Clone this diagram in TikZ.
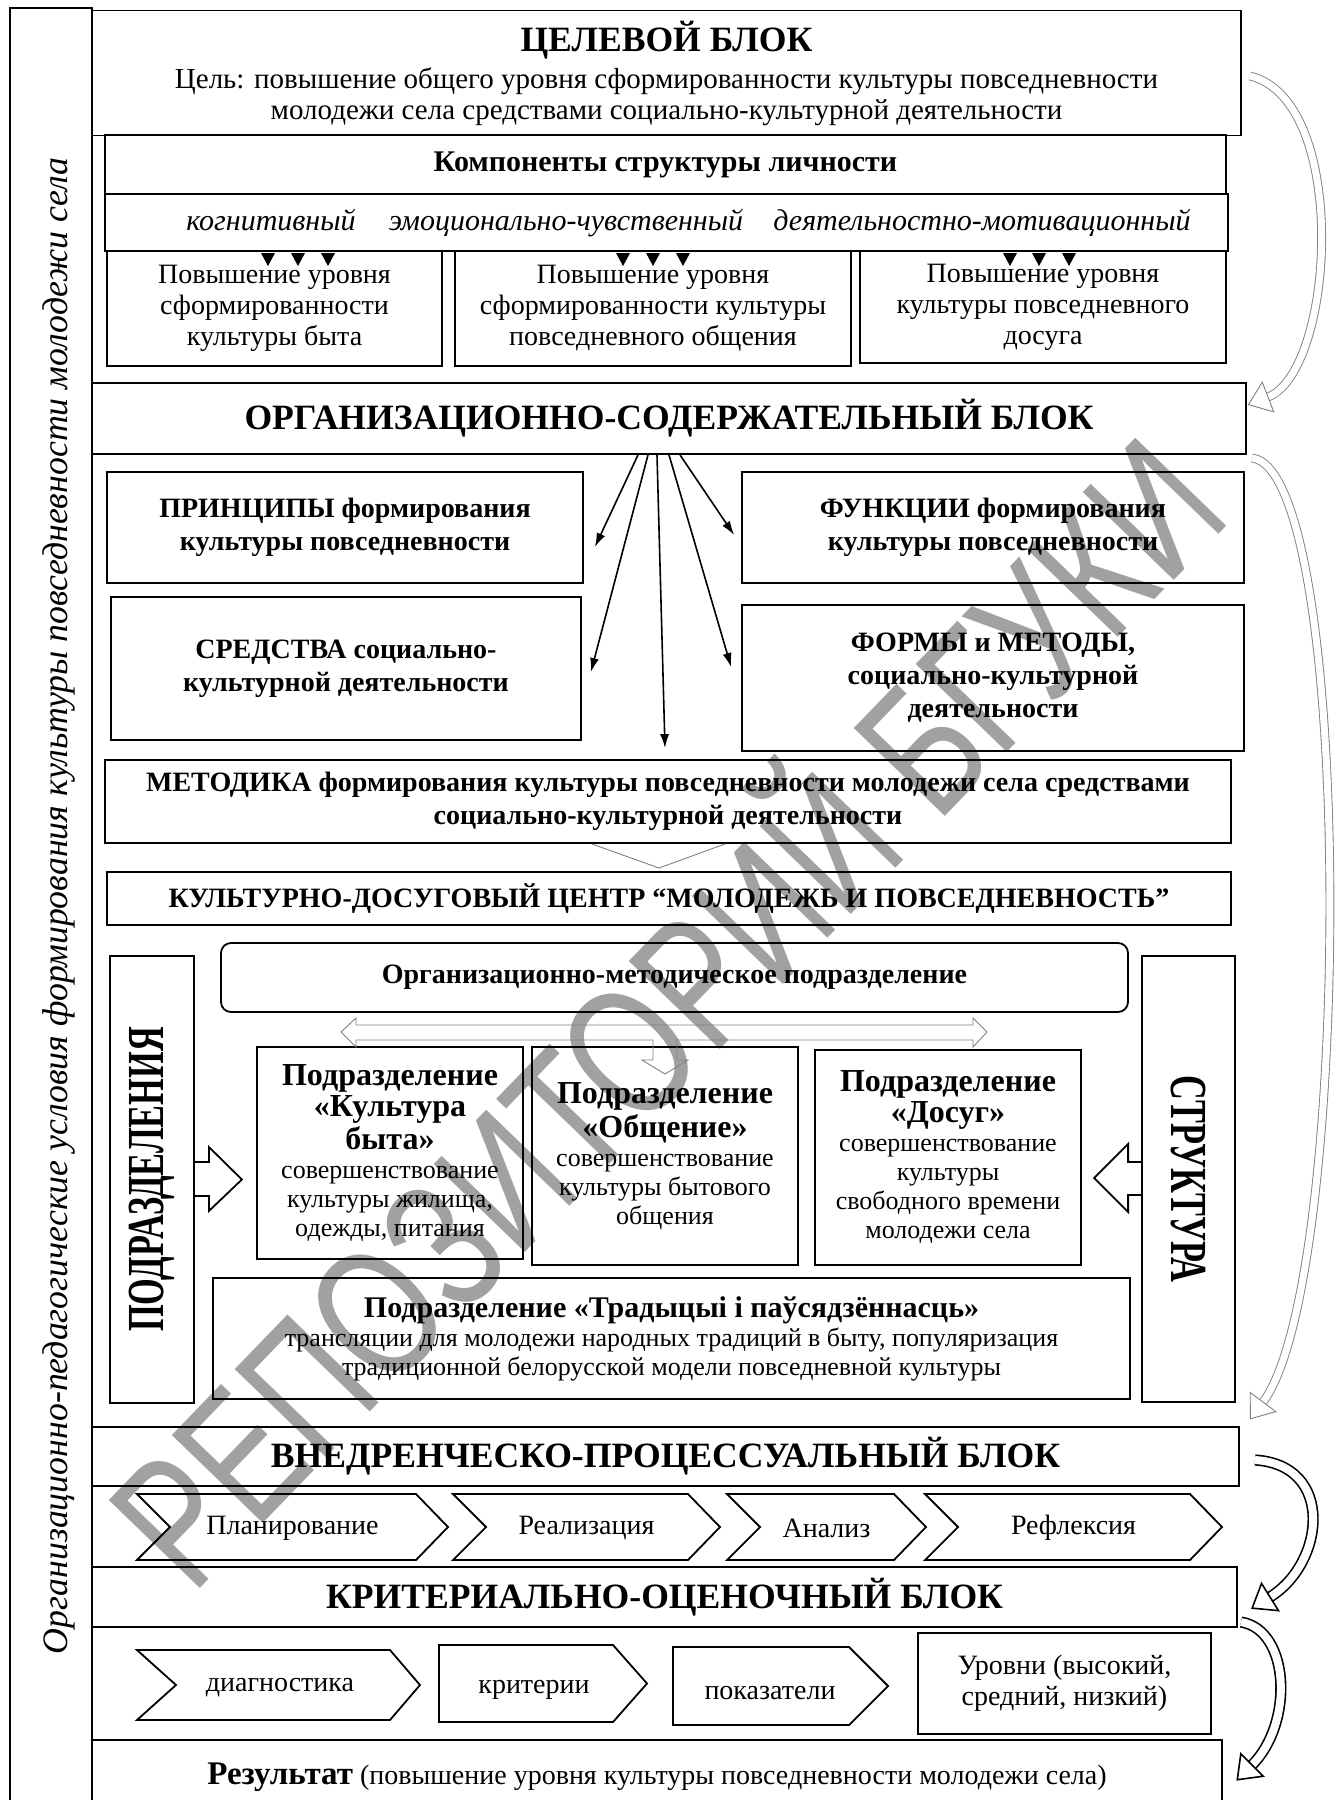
\documentclass[tikz,border=0pt]{standalone}
\usepackage{fontspec}
\usepackage{graphicx}
\setmainfont{Liberation Serif}
\newfontfamily\wmfont{Liberation Sans}
\usetikzlibrary{calc,arrows.meta}
\newcommand{\hdr}[1]{{\fontsize{16}{18}\selectfont\bfseries #1}}
\newcommand{\hhd}[4]{\draw[#1] ($(#2)+21*(#3)$) -- ($(#2)+16*(#4)$) -- ($(#2)-16*(#4)$) -- cycle;}
\tikzset{
  every picture/.style={line width=0.9pt},
  box/.style={draw, rectangle, inner sep=0pt, align=center, font=\fontsize{14}{15.5}\selectfont},
  ttl/.style={font=\fontsize{17.8}{20}\selectfont\bfseries},
  bld/.style={font=\fontsize{14}{16.5}\selectfont\bfseries},
  sub/.style={font=\fontsize{13}{14.5}\selectfont},
  itl/.style={font=\fontsize{15}{17}\selectfont\itshape, anchor=base},
  vert/.style={font=\fontsize{26}{28}\selectfont\bfseries},
  fan/.style={-{Latex[length=7pt,width=4.5pt]}, line width=0.8pt},
  hollow/.style={line width=0.45pt, double=white, double distance=3.5pt},
  hollowk/.style={line width=0.8pt, double=white, double distance=4pt},
  hhead/.style={line width=0.45pt, fill=white},
}

\begin{document}
\begin{tikzpicture}[x=0.5pt,y=-0.5pt]
\useasboundingbox (0,0) rectangle (1338,1800);

\node[rotate=46, text=black!37, font=\wmfont\fontsize{92}{92}\selectfont] (wm) at (654,1000)
  {\scalebox{0.74}[1]{РЕПОЗИТОРИЙ БГУКИ}};

\draw (10,8) rectangle (92,1815);
\node[rotate=90, anchor=base, font=\fontsize{17.9}{20}\selectfont\itshape] (side) at (67,906)
  {Организационно-педагогические условия формирования культуры повседневности молодежи села};

\node[box, minimum width=574.5pt, minimum height=62.5pt] (aim) at (666.5,73)
  {{\fontsize{17.8}{20}\selectfont\bfseries ЦЕЛЕВОЙ БЛОК}\\[3pt]
   {\fontsize{14.5}{16}\selectfont Цель: повышение общего уровня сформированности культуры повседневности}\\
   {\fontsize{14.5}{16}\selectfont молодежи села средствами социально-культурной деятельности}};
\node[box, font=\fontsize{15}{17}\selectfont\bfseries, minimum width=560.5pt, minimum height=29.5pt] (comp) at (665.5,164.5)
  {Компоненты структуры личности};
\node[box, minimum width=561.5pt, minimum height=28.5pt] (row) at (666.5,222.5) {};
\node[itl] (kog) at (271,230) {когнитивный};
\node[itl] (emo) at (566,230) {эмоционально-чувственный};
\node[itl] (dey) at (982,230) {деятельностно-мотивационный};

\node[box, minimum width=167.5pt, minimum height=57.5pt] (b1) at (274.5,308.5)
  {Повышение уровня\\ сформированности\\ культуры быта};
\node[box, minimum width=198pt, minimum height=57.5pt] (b2) at (653,308.5)
  {Повышение уровня\\ сформированности культуры\\ повседневного общения};
\node[box, minimum width=183pt, minimum height=56pt] (b3) at (1043,307)
  {Повышение уровня\\ культуры повседневного\\ досуга};
\foreach \x in {268,298,328,623,653,683,1010,1039,1069}
  \fill (\x-7,253) -- (\x+7,253) -- (\x,266) -- cycle;

\node[box, ttl, minimum width=577pt, minimum height=35.5pt] (org) at (669,418.5) {ОРГАНИЗАЦИОННО-СОДЕРЖАТЕЛЬНЫЙ БЛОК};

\node[box, bld, minimum width=238pt, minimum height=55.5pt] (prin) at (345,527.5)
  {ПРИНЦИПЫ формирования\\ культуры повседневности};
\node[box, bld, minimum width=251pt, minimum height=55.5pt] (func) at (993,527.5)
  {ФУНКЦИИ формирования\\ культуры повседневности};
\node[box, bld, minimum width=235pt, minimum height=71.5pt] (sred) at (346,668.5)
  {СРЕДСТВА социально-\\ культурной деятельности};
\node[box, bld, minimum width=251pt, minimum height=73pt] (form) at (993,678)
  {ФОРМЫ и МЕТОДЫ,\\ социально-культурной\\ деятельности};
\node[box, bld, minimum width=563pt, minimum height=41.5pt] (metod) at (668,801.5)
  {МЕТОДИКА формирования культуры повседневности молодежи села средствами\\ социально-культурной деятельности};
\node[box, bld, minimum width=562pt, minimum height=26.5pt] (kdc) at (669,898.5)
  {КУЛЬТУРНО-ДОСУГОВЫЙ ЦЕНТР “МОЛОДЕЖЬ И ПОВСЕДНЕВНОСТЬ”};

\draw[fan] ($(org.south)+(-31,0)$) -- ($(prin.east)+(11,19.5)$);
\draw[fan] ($(org.south)+(-21,0)$) -- ($(sred.east)+(9,3.5)$);
\draw[fan] ($(org.south)+(-12,0)$) -- ($(metod.north)+(-3,-11)$);
\draw[fan] ($(org.south)+(0,0)$) -- ($(form.west)+(-10,-11)$);
\draw[fan] ($(org.south)+(11,0)$) -- ($(func.west)+(-7,7.5)$);
\draw[gray, line width=0.45pt] (592,844) -- (659,868) -- (725,844);

\node[box, vert, rotate=90, minimum width=223.5pt, minimum height=42pt] (podr) at (152,1179.5)
  {\scalebox{0.66}[1]{ПОДРАЗДЕЛЕНИЯ}};
\node[box, vert, rotate=-90, minimum width=223pt, minimum height=46.5pt] (struct) at (1188.5,1179)
  {\scalebox{0.66}[1]{СТРУКТУРА}};
\node[box, bld, rounded corners=5pt, minimum width=453.5pt, minimum height=34.5pt] (omp) at (674.5,977.5)
  {Организационно-методическое подразделение};

\node[box, sub, minimum width=133pt, minimum height=106pt] (kb) at (390,1153)
  {\hdr{Подразделение}\\[1pt] \hdr{«Культура}\\[1pt] \hdr{быта»}\\ совершенствование\\ культуры жилища,\\ одежды, питания};
\node[box, sub, minimum width=133pt, minimum height=109pt] (ob) at (665,1156)
  {\hdr{Подразделение}\\[1pt] \hdr{«Общение»}\\ совершенствование\\ культуры бытового\\ общения};
\node[box, sub, minimum width=133pt, minimum height=107.5pt] (ds) at (948,1157.5)
  {\hdr{Подразделение}\\[1pt] \hdr{«Досуг»}\\ совершенствование\\ культуры\\ свободного времени\\ молодежи села};
\node[box, sub, minimum width=458.5pt, minimum height=60.5pt] (tr) at (671.5,1338.5)
  {{\fontsize{15}{17}\selectfont\bfseries Подразделение «Традыцыі і паўсядзённасць»}\\
   трансляции для молодежи народных традиций в быту, популяризация\\
   традиционной белорусской модели повседневной культуры};

\draw[gray, line width=0.45pt] (341,1032) -- (356,1018) -- (356,1025) -- (973,1025) -- (973,1018) -- (987,1032)
  -- (973,1047) -- (973,1040) -- (677,1040) -- (677,1060) -- (688,1060) -- (665,1074) -- (642,1060)
  -- (653,1060) -- (653,1040) -- (356,1040) -- (356,1047) -- cycle;
\draw[shift={(podr.south)}] (0,-17.5) -- (14,-17.5) -- (14,-32.5) -- (47,0) -- (14,31.5) -- (14,16.5) -- (0,16.5);
\draw[shift={(struct.south)}] (0,-17) -- (-13,-17) -- (-13,-35) -- (-47,-1) -- (-13,33) -- (-13,16) -- (0,16);

\node[box, ttl, minimum width=573.5pt, minimum height=29.5pt] (vn) at (665.5,1456.5) {ВНЕДРЕНЧЕСКО-ПРОЦЕССУАЛЬНЫЙ БЛОК};
\foreach \xa/\xb/\lbl [count=\i] in {137/448/Планирование, 453/720/Реализация, 727/926/Анализ, 925/1222/Рефлексия} {
  \draw (\xa,1494) -- (\xb-32,1494) -- (\xb,1527) -- (\xb-32,1560) -- (\xa,1560) -- (\xa+33,1527) -- cycle;
  \node[font=\fontsize{14}{16}\selectfont] (p\i) at ({(\xa+\xb)/2},1528) {\lbl};
}
\node[box, ttl, minimum width=572.5pt, minimum height=30pt] (kr) at (664.5,1597) {КРИТЕРИАЛЬНО-ОЦЕНОЧНЫЙ БЛОК};

\draw (137,1650) -- (390,1650) -- (420,1685) -- (390,1720) -- (137,1720) -- (176,1685) -- cycle;
\node[font=\fontsize{14}{16}\selectfont] (diag) at (280,1688) {диагностика};
\draw (439,1645) -- (613,1645) -- (647,1683.5) -- (613,1722) -- (439,1722) -- cycle;
\node[font=\fontsize{14}{16}\selectfont] (krit) at (534,1690) {критерии};
\draw (673,1647) -- (849,1647) -- (888,1686) -- (849,1725) -- (673,1725) -- cycle;
\node[font=\fontsize{14}{16}\selectfont] (pok) at (770,1693) {показатели};
\node[box, minimum width=146.5pt, minimum height=50.5pt] (urov) at (1064.5,1683.5)
  {Уровни (высокий,\\ средний, низкий)};
\node[box, minimum width=565pt, minimum height=37.5pt] (rez) at (657,1777.5)
  {{\fontsize{16.5}{18}\selectfont\bfseries Результат} (повышение уровня культуры повседневности молодежи села)};

\coordinate (a1s) at (1250,76);   \coordinate (a1e) at (1268,397);
\coordinate (a2s) at (1252,458);  \coordinate (a2e) at (1263,1402);
\coordinate (a3s) at (1255,1460); \coordinate (a3e) at (1270,1597);
\coordinate (a4s) at (1241,1622); \coordinate (a4e) at (1252,1765);
\draw[hollow, gray] (a1s) .. controls (1350,100) and (1335,371) .. (a1e);
\hhd{hhead, draw=gray}{a1e}{-0.93,0.36}{0.36,0.93}
\draw[hollow, gray] (a2s) .. controls (1355,470) and (1353,1282) .. (a2e);
\hhd{hhead, draw=gray}{a2e}{-0.6,0.8}{0.8,0.6}
\draw[hollowk] (a3s) .. controls (1335,1465) and (1325,1563) .. (a3e);
\hhd{hhead, line width=0.8pt}{a3e}{-0.85,0.53}{0.53,0.85}
\draw[hollowk] (a4s) .. controls (1290,1630) and (1294,1723) .. (a4e);
\hhd{hhead, line width=0.8pt}{a4e}{-0.7,0.7}{0.7,0.7}
\end{tikzpicture}
\end{document}
